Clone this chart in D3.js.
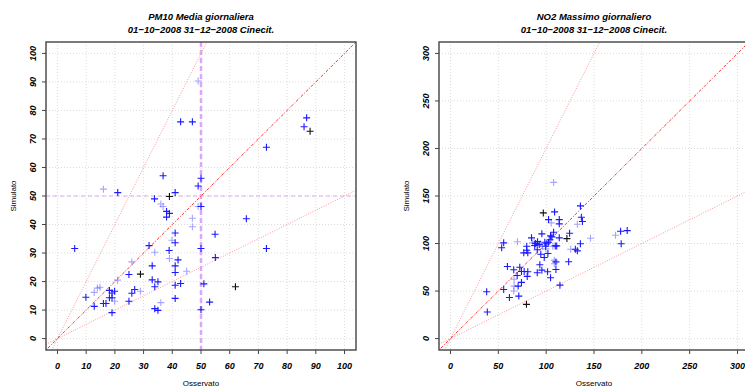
<!DOCTYPE html>
<html>
<head>
<meta charset="utf-8">
<script src="https://cdn.jsdelivr.net/npm/d3@7"></script>
<style>
  body { margin: 0; background: #fff; }
  svg { display: block; font-family: 'Liberation Sans', Arial, sans-serif; }
</style>
</head>
<body>
<svg id="chart" width="745" height="387"></svg>
<script>
// PM10 - osservato / simulato, tipo: 0 blu, 1 blu chiaro, 2 nero
const pm10Obs = [49, 42.9, 47, 86.8, 85.9, 88, 72.8, 36.8, 16, 21, 41, 33.8, 49, 50, 39, 36, 36.8, 38, 39, 38,
  49, 50, 47, 47, 65.8, 54.9, 41, 39.9, 41, 31.9, 6, 50, 72.8, 33.9, 39, 42, 33, 41, 38.9, 41,
  45, 55, 25.9, 24.9, 28.9, 33, 35, 33.9, 41, 42.9, 51, 62, 20.9, 9.9, 12.8, 13.9, 14.8, 18.1, 19, 19.9,
  26.9, 25.9, 28.9, 18.1, 19, 19.9, 24.9, 16, 16.9, 36, 41, 53, 12.8, 33.9, 35, 19, 50];
const pm10Sim = [90.3, 76, 76, 77.4, 74.3, 72.7, 67.1, 57.1, 52.4, 51.2, 51.2, 49, 53.5, 56.2, 49.8, 47.2, 46.3, 44.6, 43.9, 42.6,
  46.3, 46.3, 42.2, 39.2, 42, 36.6, 37, 34.5, 33.6, 32.6, 31.6, 31.6, 31.6, 30.3, 28.1, 27.6, 25.5, 25.5, 30.9, 23.2,
  23.6, 28.4, 26.9, 22.5, 22.6, 20.6, 19.9, 18.2, 18.7, 19.3, 19.2, 18.2, 20.5, 14.5, 16.2, 17.7, 18, 16.9, 16, 16.6,
  17.2, 15.9, 16.6, 14.3, 14.3, 13.1, 13.1, 12.3, 12.3, 12.6, 14.1, 12.8, 11.3, 10.5, 9.9, 9.1, 10.1];
const pm10Tipo = [1, 0, 0, 0, 0, 2, 0, 0, 1, 0, 0, 0, 0, 0, 2, 1, 1, 0, 0, 0,
  1, 0, 1, 1, 0, 0, 0, 1, 0, 0, 0, 0, 0, 1, 1, 0, 0, 0, 0, 0,
  1, 0, 1, 0, 2, 0, 0, 0, 0, 0, 0, 2, 1, 0, 1, 1, 1, 0, 0, 0,
  0, 0, 1, 0, 0, 1, 0, 0, 0, 1, 0, 0, 0, 0, 0, 0, 0];

// NO2
const no2Obs = [107.8, 97, 108.8, 135.8, 102.5, 113.7, 105.3, 113.7, 136.8, 137.9, 132.6, 107.8, 95.5, 104.6, 113.7, 124.5, 121.7, 84.7, 146.3, 172.5,
  177.8, 184.7, 178.4, 55.6, 53.5, 70, 79.7, 87.5, 92.8, 100.7, 99.4, 107, 109.5, 135.8, 125.6, 130.5, 132.6, 79.7, 76.6, 80.8,
  59.5, 66.1, 72.4, 74.2, 77, 80.8, 69.7, 80.2, 66.5, 74.2, 66.5, 70.7, 55.6, 66.1, 61.6, 71.4, 79.4, 37.8, 38.5, 90.7,
  93.4, 95.5, 98, 94.4, 90.7, 99.7, 101.8, 101.5, 104.6, 110.2, 108.5, 110.2, 108.5, 114.4, 123.5, 102.5, 98.6, 85.7, 88, 91,
  94, 104, 106, 111, 96, 89];
const no2Sim = [164.3, 132.2, 133.3, 139.6, 125.2, 125.2, 121.7, 120.7, 127.6, 123.1, 120.3, 111.9, 110.2, 108.1, 106, 110.8, 105.2, 106, 105.6, 108.7,
  112.9, 113.6, 99.7, 100.7, 95.5, 101.8, 97.2, 100.7, 98.9, 99.7, 97.2, 97.2, 97.5, 99.7, 94, 94, 92.3, 93, 90.2, 90.2,
  75.9, 72.4, 75.1, 70.6, 70.6, 70.3, 66.4, 65.4, 62.5, 59.1, 55.2, 55.2, 51.7, 50, 43.3, 44.7, 36, 49.3, 27.9, 69.3,
  77.6, 72, 85.3, 88.8, 93.4, 94.4, 89.5, 70.3, 64, 72.7, 82.5, 80.7, 78.7, 56.2, 80.8, 101.4, 101.4, 100.5, 98, 102,
  100, 104, 107, 97.5, 97, 100];
const no2Tipo = [1, 2, 0, 0, 0, 0, 1, 0, 0, 0, 1, 0, 0, 0, 0, 0, 2, 0, 1, 1,
  0, 0, 0, 0, 0, 1, 0, 1, 0, 0, 0, 1, 0, 0, 1, 0, 0, 0, 0, 0,
  0, 0, 0, 0, 0, 0, 0, 0, 1, 0, 1, 0, 0, 1, 0, 0, 2, 0, 0, 0,
  0, 0, 0, 0, 0, 1, 0, 0, 0, 0, 1, 0, 1, 0, 0, 0, 0, 1, 0, 0,
  1, 0, 0, 0, 1, 0];

const pm10Ticks = [0, 10, 20, 30, 40, 50, 60, 70, 80, 90, 100];
const no2Ticks = [0, 50, 100, 150, 200, 250, 300];

const tipoColor = ['#1a1aff', 'rgba(40,40,255,0.42)', '#111111'];

const svg = d3.select('#chart');

const panels = [
    {
        id: 'pm10', left: 46, title: 'PM10 Media giornaliera', max: 100, ticks: pm10Ticks,
        obs: pm10Obs, sim: pm10Sim, tipo: pm10Tipo, soglia: 50
    },
    {
        id: 'no2', left: 439, title: 'NO2 Massimo giornaliero', max: 300, ticks: no2Ticks,
        obs: no2Obs, sim: no2Sim, tipo: no2Tipo, soglia: null
    }
];

const plotTop = 42, boxW = 310, boxH = 308;
const subtitle = '01\u221210\u22122008 31\u221212\u22122008 Cinecit.';

function minusLabel(v) {
    return String(v).replace('-', '\u2212');
}

panels.forEach(p => {
    const pad = p.max * 0.04;
    const x = d3.scaleLinear().domain([-pad, p.max + pad]).range([p.left, p.left + boxW]);
    const y = d3.scaleLinear().domain([-pad, p.max + pad]).range([plotTop + boxH, plotTop]);
    const cx = p.left + boxW / 2;

    const g = svg.append('g');

    // titles
    g.append('text')
        .attr('x', cx).attr('y', 20)
        .attr('text-anchor', 'middle')
        .style('font-size', '9.5px').style('font-weight', 'bold').style('font-style', 'italic')
        .text(p.title);
    g.append('text')
        .attr('x', cx).attr('y', 33)
        .attr('text-anchor', 'middle')
        .style('font-size', '9.5px').style('font-weight', 'bold').style('font-style', 'italic')
        .text(subtitle);

    svg.append('clipPath').attr('id', 'clip-' + p.id)
        .append('rect')
        .attr('x', p.left).attr('y', plotTop).attr('width', boxW).attr('height', boxH);

    const plot = g.append('g').attr('clip-path', `url(#clip-${p.id})`);

    // grid
    plot.selectAll('line.gx').data(p.ticks).enter().append('line')
        .attr('x1', d => x(d)).attr('x2', d => x(d))
        .attr('y1', plotTop).attr('y2', plotTop + boxH)
        .attr('stroke', '#dcdcdc').attr('stroke-width', 1).attr('stroke-dasharray', '1,2');
    plot.selectAll('line.gy').data(p.ticks).enter().append('line')
        .attr('y1', d => y(d)).attr('y2', d => y(d))
        .attr('x1', p.left).attr('x2', p.left + boxW)
        .attr('stroke', '#dcdcdc').attr('stroke-width', 1).attr('stroke-dasharray', '1,2');

    // soglie
    if (p.soglia !== null) {
        plot.append('line')
            .attr('x1', p.left).attr('x2', p.left + boxW)
            .attr('y1', y(p.soglia)).attr('y2', y(p.soglia))
            .attr('stroke', '#dcaaf0').attr('stroke-width', 1).attr('stroke-dasharray', '4,3');
        plot.append('line')
            .attr('x1', x(p.soglia)).attr('x2', x(p.soglia))
            .attr('y1', plotTop).attr('y2', plotTop + boxH)
            .attr('stroke', '#d9a8f8').attr('stroke-width', 2.5).attr('stroke-dasharray', '5,3');
    }

    // rette 1:1, 2:1, 1:2
    const lo = -pad, hi = p.max + pad;
    [0.5, 2].forEach(k => {
        plot.append('line')
            .attr('x1', x(lo)).attr('y1', y(lo * k))
            .attr('x2', x(hi)).attr('y2', y(hi * k))
            .attr('stroke', '#ff9494').attr('stroke-width', 1).attr('stroke-dasharray', '1,1.5');
    });
    plot.append('line')
        .attr('x1', x(lo)).attr('y1', y(lo))
        .attr('x2', x(hi)).attr('y2', y(hi))
        .attr('stroke', '#ff3030').attr('stroke-width', 1).attr('stroke-dasharray', '1,1.5,3,1.5');

    // punti
    const pts = p.obs.map((o, i) => ({ o: o, s: p.sim[i], t: p.tipo[i] }));
    const r = 3.5;
    plot.selectAll('path.pt').data(pts).enter().append('path')
        .attr('d', d => `M${x(d.o) - r},${y(d.s)}H${x(d.o) + r}M${x(d.o)},${y(d.s) - r}V${y(d.s) + r}`)
        .attr('stroke', d => tipoColor[d.t])
        .attr('stroke-width', 1.1)
        .attr('fill', 'none');

    // box
    g.append('rect')
        .attr('x', p.left).attr('y', plotTop).attr('width', boxW).attr('height', boxH)
        .attr('fill', 'none').attr('stroke', '#444').attr('stroke-width', 1.4);

    // ticks
    g.selectAll('line.tx').data(p.ticks).enter().append('line')
        .attr('x1', d => x(d)).attr('x2', d => x(d))
        .attr('y1', plotTop + boxH).attr('y2', plotTop + boxH + 4)
        .attr('stroke', '#444');
    g.selectAll('line.ty').data(p.ticks).enter().append('line')
        .attr('y1', d => y(d)).attr('y2', d => y(d))
        .attr('x1', p.left).attr('x2', p.left - 4)
        .attr('stroke', '#444');

    g.selectAll('text.tx').data(p.ticks).enter().append('text')
        .attr('x', d => x(d)).attr('y', plotTop + boxH + 19)
        .attr('text-anchor', 'middle')
        .style('font-size', '9px').style('font-weight', 'bold').style('font-style', 'italic')
        .text(d => minusLabel(d));
    g.selectAll('text.ty').data(p.ticks).enter().append('text')
        .attr('transform', d => `translate(${p.left - 10},${y(d)}) rotate(-90)`)
        .attr('text-anchor', 'middle')
        .style('font-size', '9px').style('font-weight', 'bold').style('font-style', 'italic')
        .text(d => minusLabel(d));

    // axis titles
    g.append('text')
        .attr('x', cx).attr('y', 386)
        .attr('text-anchor', 'middle')
        .style('font-size', '8px')
        .text('Osservato');
    g.append('text')
        .attr('transform', `translate(${p.left - 30},${plotTop + boxH / 2}) rotate(-90)`)
        .attr('text-anchor', 'middle')
        .style('font-size', '8px')
        .text('Simulato');
});
</script>
</body>
</html>
